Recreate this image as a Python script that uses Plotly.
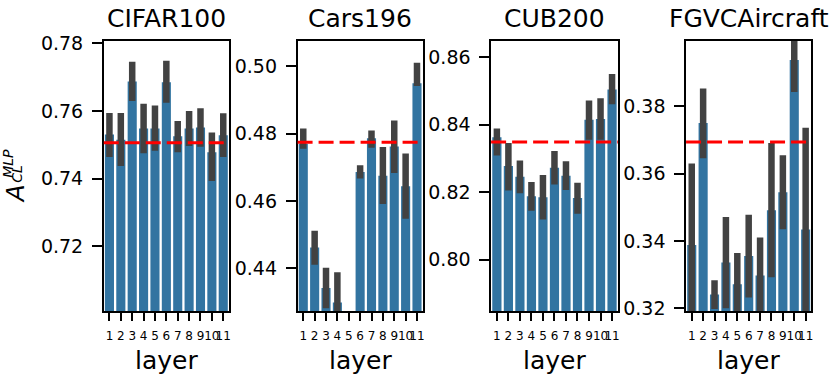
import plotly.graph_objects as go

layers = [str(i) for i in range(1, 12)]
titles = ["CIFAR100", "Cars196", "CUB200", "FGVCAircraft"]

cifar_mean = [0.7530, 0.7515, 0.7687, 0.7548, 0.7548, 0.7685, 0.7525, 0.7548, 0.7551, 0.7478, 0.7528]
cifar_hi = [0.7594, 0.7594, 0.7745, 0.7621, 0.7616, 0.7748, 0.7570, 0.7600, 0.7608, 0.7536, 0.7593]
cifar_lo = [0.7464, 0.7437, 0.7629, 0.7475, 0.7482, 0.7624, 0.7478, 0.7496, 0.7494, 0.7393, 0.7464]
cifar_ref = 0.7506

cars_mean = [0.4770, 0.4462, 0.4342, 0.4299, 0.4200, 0.4686, 0.4786, 0.4675, 0.4762, 0.4644, 0.4949]
cars_hi = [0.4815, 0.4512, 0.4402, 0.4389, 0.4240, 0.4706, 0.4809, 0.4760, 0.4839, 0.4741, 0.5010]
cars_lo = [0.4755, 0.4411, 0.4282, 0.4210, 0.4170, 0.4667, 0.4758, 0.4591, 0.4683, 0.4547, 0.4941]
cars_ref = 0.4774

cub_mean = [0.8363, 0.8278, 0.8246, 0.8188, 0.8185, 0.8273, 0.8249, 0.8183, 0.8415, 0.8417, 0.8505]
cub_hi = [0.8389, 0.8346, 0.8294, 0.8230, 0.8251, 0.8322, 0.8292, 0.8228, 0.8472, 0.8479, 0.8551]
cub_lo = [0.8309, 0.8205, 0.8197, 0.8145, 0.8119, 0.8223, 0.8207, 0.8136, 0.8356, 0.8356, 0.8461]
cub_ref = 0.8349

air_mean = [0.3388, 0.3751, 0.3241, 0.3336, 0.3271, 0.3355, 0.3297, 0.3491, 0.3545, 0.3938, 0.3434]
air_hi = [0.3630, 0.3853, 0.3283, 0.3471, 0.3364, 0.3478, 0.3410, 0.3691, 0.3655, 0.4040, 0.3737]
air_lo = [0.3150, 0.3646, 0.3198, 0.3200, 0.3180, 0.3232, 0.3190, 0.3292, 0.3435, 0.3843, 0.3130]
air_ref = 0.3694

y_ranges = [[0.7009, 0.7808], [0.4274, 0.5076], [0.7848, 0.8650], [0.3192, 0.3996]]
y_ticks = [[0.72, 0.74, 0.76, 0.78], [0.44, 0.46, 0.48, 0.50], [0.80, 0.82, 0.84, 0.86], [0.32, 0.34, 0.36, 0.38]]

W, H = 831, 381
x_px = [(104, 229.5), (298.3, 423.7), (492.3, 619.3), (687.7, 813.3)]
y_dom = [(H - 316) / H, (H - 33) / H]

series = [
    (cifar_mean, cifar_hi, cifar_lo, cifar_ref),
    (cars_mean, cars_hi, cars_lo, cars_ref),
    (cub_mean, cub_hi, cub_lo, cub_ref),
    (air_mean, air_hi, air_lo, air_ref),
]

FONT = "DejaVu Sans"
fig = go.Figure()
shapes = []
annotations = []
for i, (m, hi, lo, ref) in enumerate(series):
    n = "" if i == 0 else str(i + 1)
    xa, ya = "x" + n, "y" + n
    fig.add_trace(go.Bar(
        x=layers, y=m, xaxis=xa, yaxis=ya,
        marker=dict(color="#3274a1", line=dict(width=0)),
        width=0.8,
        error_y=dict(type="data", symmetric=False,
                     array=[h - v for h, v in zip(hi, m)],
                     arrayminus=[v - l for v, l in zip(m, lo)],
                     color="#424242", thickness=6.5, width=0),
        showlegend=False,
        hoverinfo="skip",
    ))
    dom = [x_px[i][0] / W, x_px[i][1] / W]
    axis_common = dict(showline=True, linecolor="black", linewidth=1.5, mirror=True,
                       ticks="outside", tickcolor="black", tickwidth=1.5,
                       showgrid=False, zeroline=False)
    fig.update_layout(**{
        ("xaxis" + n): dict(domain=dom, anchor=ya, range=[-0.5, 10.5], tickangle=0,
                            tickmode="array", tickvals=layers, ticktext=layers, ticklen=8,
                            ticklabelstandoff=5,
                            tickfont=dict(size=12, color="black", family=FONT),
                            **axis_common),
        ("yaxis" + n): dict(domain=y_dom, anchor=xa, range=y_ranges[i], ticklen=10,
                            ticklabelstandoff=5,
                            tickvals=y_ticks[i], tickformat=".2f",
                            tickfont=dict(size=19, color="black", family=FONT),
                            **axis_common),
    })
    shapes.append(dict(type="line", xref=xa + " domain", yref=ya, x0=0, x1=1, y0=ref, y1=ref,
                       line=dict(color="red", width=3, dash="15px,6px"), layer="above"))
    cx = (dom[0] + dom[1]) / 2
    annotations.append(dict(text=titles[i], x=cx, y=1 - 26 / H, xref="paper", yref="paper",
                            showarrow=False, xanchor="center", yanchor="bottom", borderpad=0,
                            font=dict(size=25, color="black", family=FONT)))
    annotations.append(dict(text="layer", x=cx, y=1 - 352 / H, xref="paper", yref="paper",
                            showarrow=False, xanchor="center", yanchor="top", borderpad=0,
                            font=dict(size=25, color="black", family=FONT)))

annotations.append(dict(text="<i>A</i>", x=15 / W, y=1 - 193 / H, xref="paper", yref="paper",
                        showarrow=False, textangle=-90, xanchor="center", yanchor="middle",
                        font=dict(size=25, color="black", family=FONT)))
annotations.append(dict(text="<i>MLP</i>", x=8 / W, y=1 - 161 / H, xref="paper", yref="paper",
                        showarrow=False, textangle=-90, xanchor="center", yanchor="middle",
                        font=dict(size=14, color="black", family=FONT)))
annotations.append(dict(text="<i>CL</i>", x=17.5 / W, y=1 - 172 / H, xref="paper", yref="paper",
                        showarrow=False, textangle=-90, xanchor="center", yanchor="middle",
                        font=dict(size=14, color="black", family=FONT)))

fig.update_layout(width=W, height=H, autosize=False,
                  margin=dict(l=0, r=0, t=0, b=0),
                  paper_bgcolor="white", plot_bgcolor="white",
                  bargap=0.2, shapes=shapes, annotations=annotations,
                  font=dict(family=FONT, color="black"))
fig.write_html("out.html", config={"displayModeBar": False},
               post_script="document.body.style.margin='0';document.body.style.overflow='hidden';")
